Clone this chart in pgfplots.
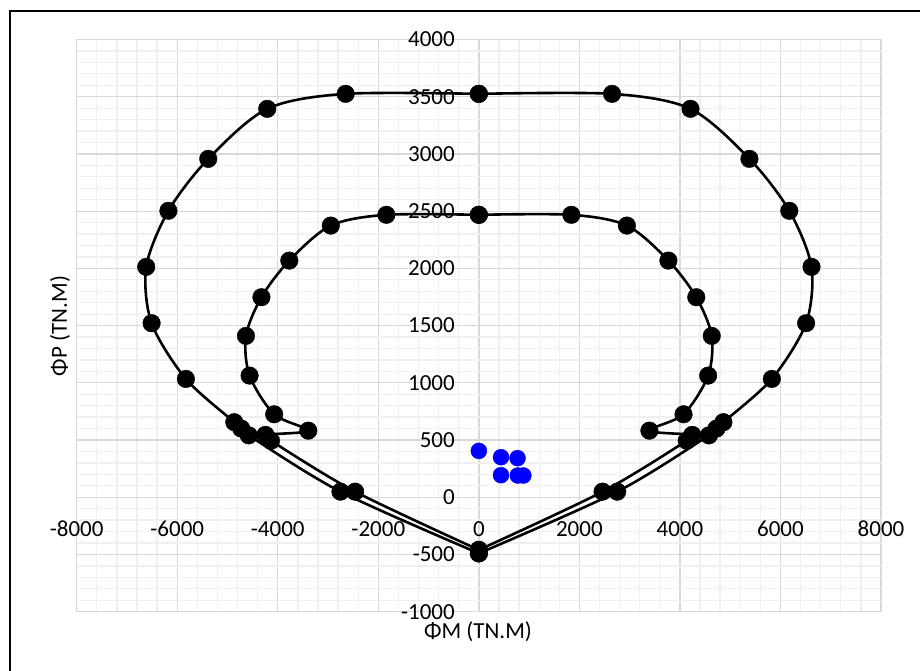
\documentclass[border=0pt]{standalone}
\usepackage{pgfplots}
\pgfplotsset{compat=1.18}
\usepackage{fontspec}
\setmainfont{Carlito}
\begin{document}
\begin{tikzpicture}[x=1pt,y=1pt]
\path[use as bounding box] (0,0) rectangle (920,671);
\draw[black, line width=2pt] (10,0) -- (10,659.5) -- (920,659.5);
\begin{axis}[at={(76.7pt,59.3pt)}, anchor=south west,
 width=804.3pt, height=572.2pt, scale only axis,
 xmin=-8000, xmax=8000, ymin=-1000, ymax=4000,
 xtick={-8000,-6000,...,8000}, ytick={-1000,-500,...,4000},
 minor x tick num=4, minor y tick num=4,
 grid=both,
 major grid style={color=black!15, line width=1.3pt},
 minor grid style={color=black!6, line width=1.3pt},
 axis line style={draw=none}, tick style={draw=none},
 scaled ticks=false,
 /pgf/number format/assume math mode=true,
 /pgf/number format/1000 sep={},
 ticklabel style={font=\fontsize{23}{27}\selectfont},
 xticklabel style={anchor=base, yshift=75pt},
 yticklabel style={anchor=east, inner sep=0pt, xshift=378.3pt},
 clip=false,
]
% outer left
\addplot[black, line width=2.6pt, smooth, tension=0.5, mark=*, mark size=8.8pt, mark options={line width=0.4pt, fill=black}] coordinates {
(0,3525) (-2650,3525) (-4210,3394) (-5383,2957) (-6176,2503) (-6617,2013) (-6510,1521) (-5828,1034) (-4865,656) (-4727,600) (-4577,541) (-2753,49) (0,-490)};
% outer right
\addplot[black, line width=2.6pt, smooth, tension=0.5, mark=*, mark size=8.8pt, mark options={line width=0.4pt, fill=black}] coordinates {
(0,3525) (2650,3525) (4210,3394) (5383,2957) (6176,2503) (6617,2013) (6510,1521) (5828,1034) (4865,656) (4727,600) (4577,541) (2753,49) (0,-490)};
% inner left
\addplot[black, line width=2.6pt, smooth, tension=0.5, mark=*, mark size=8.8pt, mark options={line width=0.4pt, fill=black}] coordinates {
(0,2468) (-1840,2468) (-2945,2374) (-3771,2068) (-4325,1748) (-4633,1410) (-4561,1063) (-4072,725) (-3393,582) (-4245,545) (-4135,494) (-2461,49) (0,-460)};
% inner right
\addplot[black, line width=2.6pt, smooth, tension=0.5, mark=*, mark size=8.8pt, mark options={line width=0.4pt, fill=black}] coordinates {
(0,2468) (1840,2468) (2945,2374) (3771,2068) (4325,1748) (4633,1410) (4561,1063) (4072,725) (3393,582) (4245,545) (4135,494) (2461,49) (0,-460)};
% demand points
\addplot[only marks, mark=*, mark size=8pt, color=blue, mark options={fill=blue, draw=blue}] coordinates {
(0,405) (440,350) (770,342) (440,193) (775,190) (885,190)};
\end{axis}
\node[font=\fontsize{23}{27}\selectfont] at (478,39) {ΦM (TN.M)};
\node[font=\fontsize{23}{27}\selectfont, rotate=90] at (60,345) {ΦP (TN.M)};
\end{tikzpicture}
\end{document}
